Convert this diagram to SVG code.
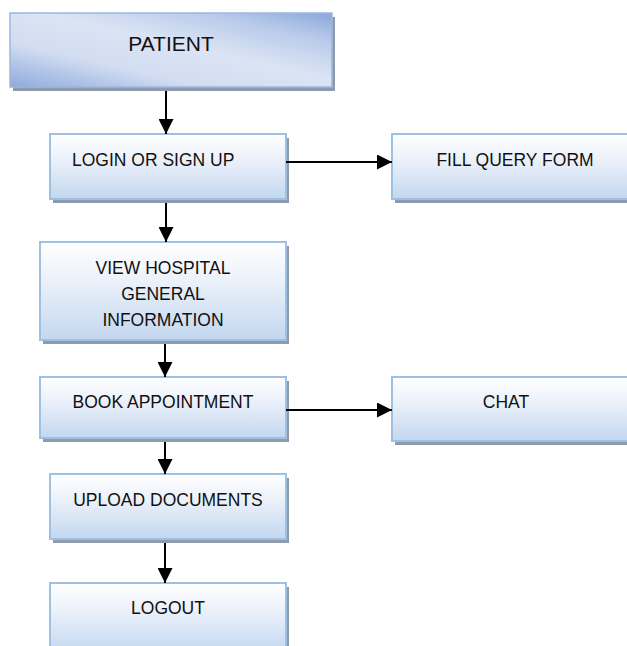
<svg xmlns="http://www.w3.org/2000/svg" width="627" height="646" viewBox="0 0 627 646">
<defs>
<linearGradient id="gBox" x1="0" y1="0" x2="0" y2="1">
<stop offset="0" stop-color="#ffffff"/>
<stop offset="0.35" stop-color="#eef3fb"/>
<stop offset="1" stop-color="#c3d7ef"/>
</linearGradient>
<linearGradient id="gPat" x1="0" y1="1" x2="1" y2="0">
<stop offset="0" stop-color="#8eaadc"/>
<stop offset="0.3" stop-color="#d2ddf2"/>
<stop offset="0.55" stop-color="#dbe4f4"/>
<stop offset="0.8" stop-color="#b9cbea"/>
<stop offset="1" stop-color="#8aa7da"/>
</linearGradient>
<marker id="ah" viewBox="0 0 10 10" refX="10" refY="5" markerWidth="7.5" markerHeight="7.5" markerUnits="strokeWidth" orient="auto">
<path d="M0,0 L10,5 L0,10 Z" fill="#000"/>
</marker>
</defs>
<style>
.shadow{fill:#8e9bad}
.box{fill:url(#gBox);stroke:#9dc1e5;stroke-width:2}
.pat{fill:url(#gPat);stroke:#9fb6df;stroke-width:1.5}
.t{font-family:"Liberation Sans",Arial,sans-serif;font-size:17.5px;fill:#111}
.tc{text-anchor:middle}
.conn{stroke:#000;stroke-width:2;fill:none;marker-end:url(#ah)}
</style>
<rect width="627" height="646" fill="#fff"/>

<g id="patient">
<rect class="shadow" x="13" y="17" width="322" height="74"/>
<rect class="pat" x="10" y="13" width="322" height="74"/>
<text class="t tc" x="171" y="51" style="font-size:21px">PATIENT</text>
</g>

<g id="login">
<rect class="shadow" x="53" y="138" width="236" height="65"/>
<rect class="box" x="50" y="134" width="236" height="65"/>
<text class="t" x="72" y="166">LOGIN OR SIGN UP</text>
</g>

<g id="fillquery">
<rect class="shadow" x="395" y="138" width="240" height="65"/>
<rect class="box" x="392" y="134" width="240" height="65"/>
<text class="t tc" x="515" y="166">FILL QUERY FORM</text>
</g>

<g id="viewhospital">
<rect class="shadow" x="43" y="246" width="246" height="98"/>
<rect class="box" x="40" y="242" width="246" height="98"/>
<text class="t tc" x="163" y="274">VIEW HOSPITAL</text>
<text class="t tc" x="163" y="300">GENERAL</text>
<text class="t tc" x="163" y="326">INFORMATION</text>
</g>

<g id="book">
<rect class="shadow" x="43" y="381" width="246" height="61"/>
<rect class="box" x="40" y="377" width="246" height="61"/>
<text class="t tc" x="163" y="408">BOOK APPOINTMENT</text>
</g>

<g id="chat">
<rect class="shadow" x="395" y="381" width="240" height="64"/>
<rect class="box" x="392" y="377" width="240" height="64"/>
<text class="t tc" x="506" y="408">CHAT</text>
</g>

<g id="upload">
<rect class="shadow" x="53" y="478" width="236" height="65"/>
<rect class="box" x="50" y="474" width="236" height="65"/>
<text class="t tc" x="168" y="506">UPLOAD DOCUMENTS</text>
</g>

<g id="logout">
<rect class="shadow" x="53" y="587" width="236" height="70"/>
<rect class="box" x="50" y="583" width="236" height="70"/>
<text class="t tc" x="168" y="614">LOGOUT</text>
</g>

<g id="connectors">
<line class="conn" x1="166" y1="91" x2="166" y2="134"/>
<line class="conn" x1="166" y1="203" x2="166" y2="242"/>
<line class="conn" x1="165" y1="344" x2="165" y2="377"/>
<line class="conn" x1="165" y1="442" x2="165" y2="474"/>
<line class="conn" x1="165" y1="543" x2="165" y2="583"/>
<line class="conn" x1="286" y1="162" x2="392" y2="162"/>
<line class="conn" x1="286" y1="410" x2="392" y2="410"/>
</g>
</svg>
